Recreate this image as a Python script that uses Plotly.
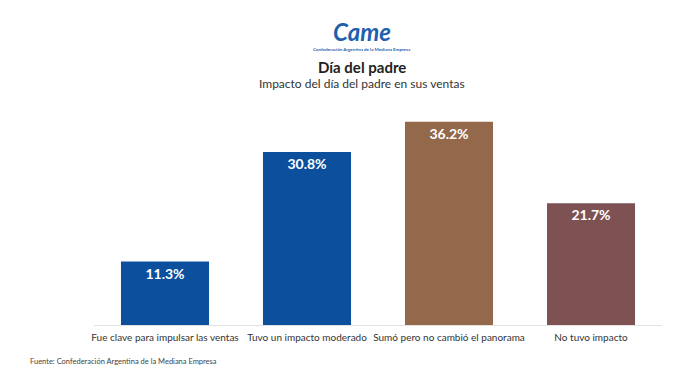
import plotly.graph_objects as go

categories = ["Fue clave para impulsar las ventas", "Tuvo un impacto moderado",
              "Sumó pero no cambió el panorama", "No tuvo impacto"]
values = [11.3, 30.8, 36.2, 21.7]
labels = ["11.3%", "30.8%", "36.2%", "21.7%"]
colors = ["#0c4f9c", "#0c4f9c", "#93684b", "#7e5253"]

FONT = "Lato"
L, T, B = 94, 110, 61
W, H = 673, 386
PH = H - T - B
PW = W - L - 11


def py(pix):
    return (H - B - pix) / PH


def px(pix):
    return (pix - L) / PW


fig = go.Figure(go.Bar(
    x=categories, y=values, marker_color=colors, marker_line_width=0,
    text=labels, textposition="inside", insidetextanchor="end",
    textfont=dict(family=FONT, size=14, color="white", weight="bold"),
    textangle=0, cliponaxis=False,
))

fig.update_layout(
    width=W, height=H,
    margin=dict(l=L, r=11, t=T, b=B),
    paper_bgcolor="white", plot_bgcolor="white",
    bargap=0.38, showlegend=False,
    uniformtext=dict(minsize=14, mode="show"),
    xaxis=dict(showgrid=False, showline=True, linecolor="#e2e2e2", linewidth=1,
               ticks="outside", ticklen=3, tickcolor="rgba(0,0,0,0)", tickangle=0,
               tickfont=dict(family=FONT, size=10, color="#333333")),
    yaxis=dict(range=[0, 38.3], visible=False, showgrid=False),
)

cx = px(362)
fig.add_annotation(x=cx, y=py(31), xref="paper", yref="paper", yanchor="middle",
                   xanchor="center", showarrow=False,
                   text="<b><i>Came</i></b>",
                   font=dict(family=FONT, size=24, color="#1f5fb0"))
fig.add_annotation(x=cx, y=py(50), xref="paper", yref="paper", yanchor="middle",
                   xanchor="center", showarrow=False,
                   text="<b>Confederación Argentina de la Mediana Empresa</b>",
                   font=dict(family=FONT, size=4.5, color="#1f5fb0"))
fig.add_annotation(x=cx, y=py(67), xref="paper", yref="paper", yanchor="middle",
                   xanchor="center", showarrow=False,
                   text="<b>Día del padre</b>",
                   font=dict(family=FONT, size=15, color="#222222"))
fig.add_annotation(x=cx, y=py(84), xref="paper", yref="paper", yanchor="middle",
                   xanchor="center", showarrow=False,
                   text="Impacto del día del padre en sus ventas",
                   font=dict(family=FONT, size=12, color="#333333"))
fig.add_annotation(x=px(28), y=py(361), xref="paper", yref="paper", yanchor="middle",
                   xanchor="left", showarrow=False,
                   text="Fuente: Confederación Argentina de la Mediana Empresa",
                   font=dict(family=FONT, size=7.5, color="#444444"))

fig.write_html("out.html", config={"displayModeBar": False},
               post_script="document.body.style.margin='0';")
